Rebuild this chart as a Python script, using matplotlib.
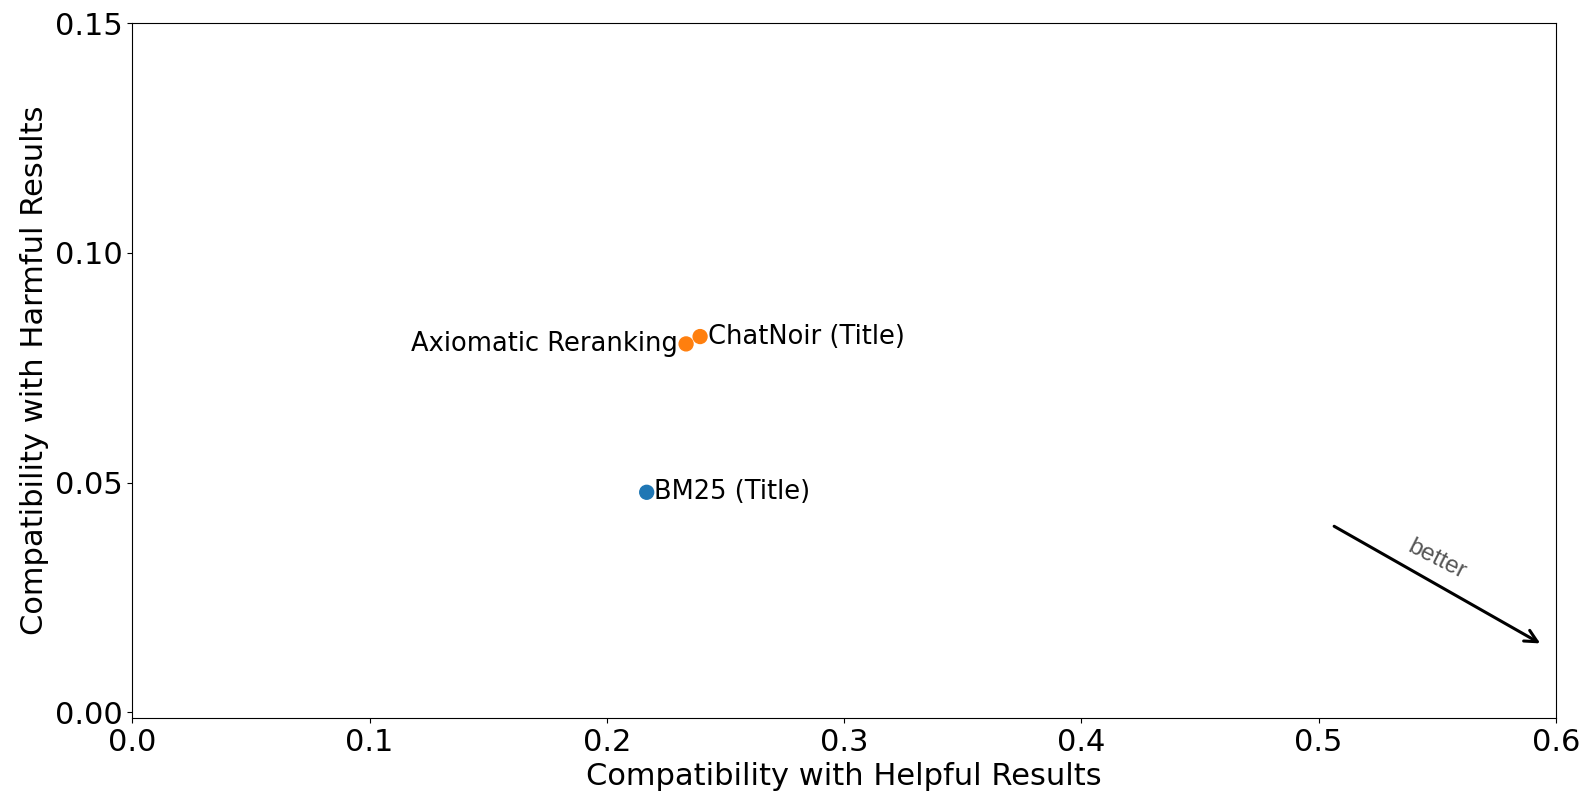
import matplotlib
matplotlib.use('Agg')
import matplotlib.pyplot as plt

# system scores: (helpful compat, harmful compat)
names = ['BM25 (Title)', 'Axiomatic Reranking', 'ChatNoir (Title)']
helpful = [0.2168, 0.2334, 0.2393]
harmful = [0.0479, 0.0802, 0.0818]
colors = ['#1f77b4', '#ff7f0e', '#ff7f0e']
label_side = ['right', 'left', 'right']

fig = plt.figure(figsize=(15.84, 7.94), dpi=100)
ax = fig.add_axes([0.0835, 0.0957, 0.8988, 0.875])

ax.scatter(helpful, harmful, c=colors, s=100, zorder=3)

for n, x, y, side in zip(names, helpful, harmful, label_side):
    if side == 'right':
        ax.annotate(n, (x, y), xytext=(5.5, 0), textcoords='offset points',
                    ha='left', va='center', fontsize=18.5)
    else:
        ax.annotate(n, (x, y), xytext=(-6, 0), textcoords='offset points',
                    ha='right', va='center', fontsize=18.5)

# "better" arrow in the lower right corner
ax.annotate('', xy=(0.5944, 0.0147), xytext=(0.5055, 0.0408),
            arrowprops=dict(arrowstyle='->', lw=2.2, color='black',
                            mutation_scale=22))
ax.text(0.5497, 0.0332, 'better', rotation=-27, ha='center', va='center',
        fontsize=17.5, color='#555555', family='Liberation Sans')

ax.set_xlim(0, 0.6)
ax.set_ylim(-0.00124, 0.15)
ax.set_xticks([0.0, 0.1, 0.2, 0.3, 0.4, 0.5, 0.6])
ax.set_yticks([0.00, 0.05, 0.10, 0.15])
ax.set_yticklabels(['0.00', '0.05', '0.10', '0.15'])
ax.tick_params(labelsize=22, length=3.5)
ax.set_xlabel('Compatibility with Helpful Results', fontsize=22)
ax.set_ylabel('Compatibility with Harmful Results', fontsize=22)

plt.savefig('out.png', dpi=100)
